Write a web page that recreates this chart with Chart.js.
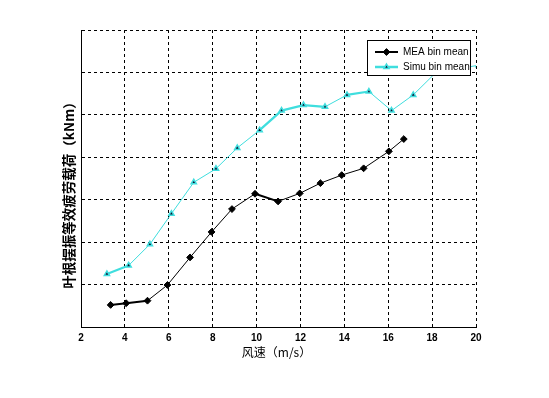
<!DOCTYPE html>
<html>
<head>
<meta charset="utf-8">
<script src="https://cdn.jsdelivr.net/npm/chart.js@4/dist/chart.umd.min.js"></script>
<style>
  html, body { margin: 0; padding: 0; background: #fff; }
  #wrap { width: 549px; height: 398px; }
</style>
</head>
<body>
<div id="wrap"><canvas id="chart-bin" width="549" height="398"></canvas></div>
<script>
  // 风速 (m/s) 与 bin 平均值（无纵轴刻度，按网格单位读取）
  var windMea = [3.35, 4.06, 5.03, 5.94, 6.97, 7.95, 8.88, 9.93, 10.98, 11.97, 12.91, 13.88, 14.88, 16.03, 16.71];
  var meaMean = [0.52, 0.56, 0.62, 0.99, 1.64, 2.24, 2.78, 3.14, 2.96, 3.15, 3.39, 3.58, 3.74, 4.14, 4.43];

  var windSimu = [3.18, 4.17, 5.14, 6.12, 7.14, 8.15, 9.12, 10.14, 11.14, 12.14, 13.12, 14.12, 15.12, 16.15, 17.14, 18.12, 19.12, 20.12];
  var simuMean = [1.25, 1.45, 1.95, 2.67, 3.41, 3.73, 4.22, 4.64, 5.10, 5.23, 5.19, 5.47, 5.55, 5.10, 5.47, 5.97, 6.08, 6.17];

  var xTicks = [2, 4, 6, 8, 10, 12, 14, 16, 18, 20];
  var seriesNames = ['MEA bin mean', 'Simu bin mean'];
  var xTitle = '风速（m/s）';
  var yTitle = '叶根摆振等效疲劳载荷（kNm）';

  // 粗线段（起点序号）
  var meaThick = [0, 1, 7];
  var simuThick = [0, 7, 8, 9, 11];

  var CYAN = '#3fdede';

  function toPoints(xs, ys) {
    return xs.map(function(x, i) { return { x: x, y: ys[i] }; });
  }

  var bgPlugin = {
    id: 'bg',
    beforeDraw: function(c) {
      var ctx = c.ctx;
      ctx.save();
      ctx.fillStyle = '#fff';
      ctx.fillRect(0, 0, c.width, c.height);
      ctx.restore();
    }
  };

  var textPlugin = {
    id: 'texts',
    afterDraw: function(c) {
      var ctx = c.ctx;
      var a = c.chartArea;
      ctx.save();
      ctx.fillStyle = '#000';
      ctx.textAlign = 'center';
      ctx.textBaseline = 'middle';
      ctx.font = '12px "Noto Sans CJK SC", sans-serif';
      ctx.fillText(xTitle, (a.left + a.right) / 2 - 2, 352);

      ctx.translate(69, 192);
      ctx.rotate(-Math.PI / 2);
      ctx.font = 'bold 13.5px "Noto Sans CJK SC", sans-serif';
      ctx.fillText(yTitle, 0, 0);
      ctx.restore();

      // 图例
      ctx.save();
      var bx = 367.5, by = 40.5, bw = 103, bh = 35;
      ctx.fillStyle = '#fff';
      ctx.fillRect(bx, by, bw, bh);
      ctx.strokeStyle = '#000';
      ctx.lineWidth = 1;
      ctx.strokeRect(bx, by, bw, bh);
      ctx.font = '10px Arial, "Liberation Sans", sans-serif';
      ctx.textAlign = 'left';
      ctx.textBaseline = 'middle';
      c.data.datasets.forEach(function(ds, i) {
        var y = 52 + i * 15;
        ctx.strokeStyle = ds.borderColor;
        ctx.lineWidth = i === 0 ? 2 : 2.5;
        ctx.beginPath();
        ctx.moveTo(375, y);
        ctx.lineTo(398, y);
        ctx.stroke();
        ctx.fillStyle = ds.pointBackgroundColor;
        ctx.strokeStyle = ds.pointBorderColor;
        ctx.lineWidth = ds.pointBorderWidth;
        Chart.helpers.drawPoint(ctx, {
          pointStyle: ds.pointStyle,
          radius: ds.pointRadius,
          borderWidth: ds.pointBorderWidth
        }, 386.5, y);
        ctx.fillStyle = '#000';
        ctx.fillText(ds.label, 403, y + 0.5);
      });
      ctx.restore();
    }
  };

  function draw() {
    var ctx = document.getElementById('chart-bin');
    var gridCommon = { color: '#000', lineWidth: 1, drawTicks: false };
    var borderCommon = { display: true, color: '#000', width: 1, dash: [3, 3] };

    new Chart(ctx, {
      type: 'line',
      data: {
        datasets: [{
          label: seriesNames[0],
          data: toPoints(windMea, meaMean),
          borderColor: '#000',
          backgroundColor: '#000',
          borderWidth: 1,
          pointStyle: 'rectRot',
          pointRadius: 3.4,
          pointBackgroundColor: '#000',
          pointBorderColor: '#000',
          pointBorderWidth: 1,
          tension: 0,
          fill: false,
          segment: {
            borderWidth: function(s) { return meaThick.indexOf(s.p0DataIndex) >= 0 ? 2 : 1; }
          }
        }, {
          label: seriesNames[1],
          data: toPoints(windSimu, simuMean),
          borderColor: CYAN,
          backgroundColor: '#113',
          borderWidth: 1,
          pointStyle: 'triangle',
          pointRadius: 3,
          pointBackgroundColor: '#113',
          pointBorderColor: CYAN,
          pointBorderWidth: 1.5,
          tension: 0,
          fill: false,
          segment: {
            borderWidth: function(s) { return simuThick.indexOf(s.p0DataIndex) >= 0 ? 2.2 : 1; }
          }
        }]
      },
      options: {
        responsive: false,
        animation: false,
        devicePixelRatio: 1,
        layout: { padding: { top: 30, right: 73, left: 0, bottom: 0 } },
        plugins: {
          legend: { display: false },
          tooltip: { enabled: false }
        },
        scales: {
          x: {
            type: 'linear',
            min: 2,
            max: 20,
            afterBuildTicks: function(s) {
              s.ticks = xTicks.map(function(v) { return { value: v }; });
            },
            afterFit: function(s) { s.height = 71; },
            grid: gridCommon,
            border: borderCommon,
            ticks: {
              color: '#000',
              padding: 5,
              maxRotation: 0,
              autoSkip: false,
              font: { family: 'Arial, "Liberation Sans", sans-serif', size: 10, weight: 'bold' }
            }
          },
          y: {
            min: 0,
            max: 7,
            afterFit: function(s) { s.width = 81; },
            grid: gridCommon,
            border: borderCommon,
            ticks: { display: false, stepSize: 1 }
          }
        }
      },
      plugins: [bgPlugin, textPlugin]
    });
  }

  draw();
</script>
</body>
</html>
